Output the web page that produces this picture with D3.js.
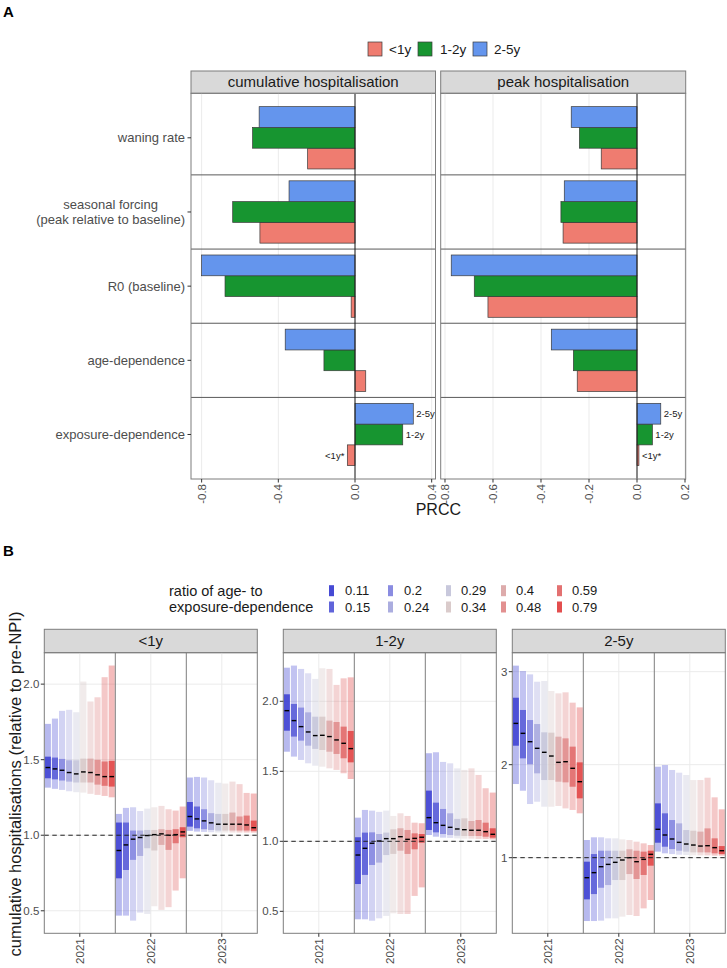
<!DOCTYPE html>
<html><head><meta charset="utf-8">
<script src="https://cdn.jsdelivr.net/npm/d3@7"></script>
<style>body{margin:0;background:#fff}svg{font-family:"Liberation Sans",Arial,Helvetica,sans-serif}</style>
</head><body><svg id="c" width="727" height="968"></svg>
<script>
// ================= PANEL A DATA =================
const outcomes = ["cumulative hospitalisation", "peak hospitalisation"];
const params = ["waning rate", "seasonal forcing\n(peak relative to baseline)", "R0 (baseline)", "age-dependence", "exposure-dependence"];
const ageGroups = ["<1y", "1-2y", "2-5y"];
const cumLt1   = [-0.247, -0.496, -0.020,  0.056, -0.040];
const cum1to2  = [-0.534, -0.638, -0.678, -0.162,  0.249];
const cum2to5  = [-0.500, -0.344, -0.800, -0.364,  0.304];
const peakLt1  = [-0.149, -0.308, -0.621, -0.249,  0.008];
const peak1to2 = [-0.240, -0.317, -0.678, -0.265,  0.064];
const peak2to5 = [-0.274, -0.303, -0.774, -0.357,  0.099];
const cumTicks  = [-0.8, -0.4, 0.0, 0.4];
const peakTicks = [-0.8, -0.6, -0.4, -0.2, 0.0, 0.2];
const labelledParam = "exposure-dependence";
const barLabels = ["<1y*", "1-2y", "2-5y"];

// ================= PANEL B DATA =================
const years = [2021, 2022, 2023];
const ratios = ["0.11","0.15","0.2","0.24","0.29","0.34","0.4","0.48","0.59","0.79"];
const ageFacets = ["<1y", "1-2y", "2-5y"];
// each array: 10 ratios for 2021, then 2022, then 2023
const lt1Hi95 = [1.737,1.772,1.823,1.830,1.814,2.017,1.885,1.913,2.046,2.123,
                 1.141,1.181,1.185,1.160,1.176,1.185,1.194,1.172,1.163,1.190,
                 1.382,1.386,1.382,1.364,1.347,1.342,1.355,1.338,1.280,1.276];
const lt1Hi50 = [1.520,1.514,1.505,1.496,1.496,1.507,1.507,1.499,1.488,1.492,
                 1.084,1.084,1.031,1.031,1.035,1.035,1.040,1.035,1.040,1.053,
                 1.220,1.190,1.172,1.146,1.141,1.141,1.150,1.124,1.130,1.097];
const lt1Med  = [1.448,1.439,1.430,1.415,1.406,1.419,1.415,1.400,1.388,1.388,
                 0.899,0.936,0.974,0.985,0.998,1.004,1.009,1.000,1.004,1.022,
                 1.124,1.108,1.095,1.082,1.073,1.073,1.073,1.073,1.068,1.050];
const lt1Lo50 = [1.377,1.370,1.362,1.355,1.349,1.349,1.349,1.335,1.327,1.322,
                 0.715,0.770,0.837,0.863,0.914,0.899,0.936,0.903,0.947,0.987,
                 1.057,1.046,1.040,1.035,1.031,1.031,1.031,1.031,1.031,1.029];
const lt1Lo95 = [1.315,1.307,1.300,1.291,1.285,1.282,1.274,1.267,1.260,1.251,
                 0.468,0.468,0.435,0.488,0.479,0.530,0.506,0.524,0.634,0.715,
                 1.029,1.024,1.022,1.020,1.018,1.018,1.018,1.018,1.018,1.018];

const y12Hi95 = [2.240,2.255,2.231,2.200,2.160,2.236,2.231,2.117,2.164,2.171,
                 1.169,1.224,1.219,1.210,1.219,1.181,1.200,1.181,1.133,1.129,
                 1.629,1.636,1.567,1.557,1.521,1.510,1.521,1.474,1.379,1.348];
const y12Hi50 = [2.050,1.981,1.955,1.921,1.890,1.890,1.862,1.852,1.819,1.788,
                 1.029,1.062,1.064,1.052,1.062,1.086,1.093,1.081,1.057,1.052,
                 1.362,1.276,1.231,1.200,1.160,1.164,1.145,1.152,1.133,1.093];
const y12Med  = [1.933,1.862,1.819,1.781,1.755,1.757,1.748,1.724,1.700,1.662,
                 0.902,0.950,0.986,1.002,1.019,1.019,1.033,1.014,1.021,1.029,
                 1.169,1.133,1.114,1.100,1.088,1.083,1.079,1.079,1.069,1.050];
const y12Lo50 = [1.790,1.748,1.719,1.683,1.660,1.652,1.640,1.624,1.593,1.564,
                 0.695,0.760,0.831,0.848,0.902,0.910,0.933,0.910,0.943,0.990,
                 1.081,1.064,1.052,1.045,1.040,1.038,1.038,1.038,1.033,1.026];
const y12Lo95 = [1.640,1.605,1.581,1.557,1.540,1.533,1.521,1.510,1.486,1.445,
                 0.443,0.443,0.433,0.450,0.467,0.486,0.481,0.481,0.610,0.671,
                 1.045,1.033,1.026,1.024,1.021,1.019,1.019,1.017,1.017,1.014];

const y25Hi95 = [3.065,3.007,2.971,2.892,2.900,2.792,2.767,2.778,2.667,2.616,
                 1.190,1.219,1.219,1.208,1.208,1.197,1.190,1.172,1.154,1.136,
                 1.978,1.996,1.943,1.914,1.889,1.835,1.835,1.860,1.649,1.520];
const y25Hi50 = [2.720,2.588,2.480,2.437,2.348,2.344,2.301,2.283,2.194,2.025,
                 0.957,1.039,1.075,1.075,1.075,1.075,1.090,1.075,1.065,1.075,
                 1.584,1.477,1.405,1.369,1.297,1.290,1.280,1.315,1.208,1.125];
const y25Med  = [2.444,2.337,2.247,2.176,2.133,2.093,2.025,2.032,1.961,1.817,
                 0.785,0.839,0.903,0.928,0.950,0.975,1.000,0.957,0.982,1.036,
                 1.305,1.244,1.201,1.165,1.147,1.136,1.125,1.129,1.108,1.075];
const y25Lo50 = [2.204,2.068,2.004,1.907,1.835,1.835,1.817,1.810,1.763,1.638,
                 0.552,0.609,0.677,0.706,0.760,0.760,0.824,0.771,0.814,0.914,
                 1.161,1.118,1.093,1.075,1.065,1.057,1.057,1.057,1.047,1.039];
const y25Lo95 = [1.792,1.720,1.577,1.602,1.548,1.548,1.556,1.530,1.513,1.477,
                 0.319,0.319,0.323,0.348,0.348,0.366,0.384,0.373,0.455,0.545,
                 1.065,1.047,1.039,1.032,1.029,1.025,1.025,1.025,1.022,1.022];
const lt1Ticks = [0.5, 1.0, 1.5, 2.0];
const y12Ticks = [0.5, 1.0, 1.5, 2.0];
const y25Ticks = [1, 2, 3];

// ================= STYLES =================
const ageColors = {"<1y":"#EF7C70", "1-2y":"#179530", "2-5y":"#6495ED"};
const ratioColors = ["#3236CF","#4F53D6","#7D80DE","#A2A4DC","#C2C2D8","#D6C5C5","#D9A2A2","#DF8484","#E06262","#E03B3B"];
const gridCol = "#EBEBEB", borderCol = "#7d7d7d", tickTxt = "#4D4D4D";
const fmtHy = f => v => d3.format(f)(v).replace("\u2212","-");

const svg = d3.select("#c");
svg.append("rect").attr("width",727).attr("height",968).attr("fill","#fff");

// ---------- Panel labels ----------
svg.append("text").attr("x",3).attr("y",17).attr("font-size",15).attr("font-weight","bold").text("A");
svg.append("text").attr("x",3).attr("y",556).attr("font-size",15).attr("font-weight","bold").text("B");

// ================= PANEL A =================
const aTop = 93.3, aBot = 479, stripTop = 71;
const valsA = {
  "cumulative hospitalisation": {"<1y":cumLt1, "1-2y":cum1to2, "2-5y":cum2to5},
  "peak hospitalisation": {"<1y":peakLt1, "1-2y":peak1to2, "2-5y":peak2to5}
};
const panelsA = [
  {x0:191, x1:435.5, dom:[-0.8555, 0.4199], ticks:cumTicks},
  {x0:440.7, x1:685.7, dom:[-0.8179, 0.2029], ticks:peakTicks}
];
const yA = d3.scaleBand().domain(params).range([aTop, aBot]).paddingInner(0).paddingOuter(0.1);
const step = yA.step();
const gA = d3.scaleBand().domain(["2-5y","1-2y","<1y"]).range([-0.42*step, 0.42*step]);

// legend A
const legA = [{k:"<1y", x:368, tx:389},{k:"1-2y", x:418, tx:440},{k:"2-5y", x:473, tx:494}];
legA.forEach(d=>{
  svg.append("rect").attr("x",d.x).attr("y",42).attr("width",14).attr("height",14)
    .attr("fill",ageColors[d.k]).attr("stroke","#3a3a3a").attr("stroke-width",0.7);
  svg.append("text").attr("x",d.tx).attr("y",49).attr("dy","0.35em").attr("font-size",13.5).attr("fill","#1a1a1a").text(d.k);
});

outcomes.forEach((o,i)=>{
  const P = panelsA[i];
  const x = d3.scaleLinear().domain(P.dom).range([P.x0, P.x1]);
  const g = svg.append("g");
  g.append("rect").attr("x",P.x0).attr("y",stripTop).attr("width",P.x1-P.x0).attr("height",aTop-stripTop)
    .attr("fill","#D9D9D9").attr("stroke",borderCol).attr("stroke-width",1);
  g.append("text").attr("x",(P.x0+P.x1)/2).attr("y",(stripTop+aTop)/2).attr("dy","0.35em")
    .attr("text-anchor","middle").attr("font-size",15).attr("fill","#1a1a1a").text(o);
  g.selectAll(".gx").data(P.ticks).join("line")
    .attr("x1",d=>x(d)).attr("x2",d=>x(d)).attr("y1",aTop).attr("y2",aBot)
    .attr("stroke",gridCol).attr("stroke-width",1);
  params.slice(1).forEach(p=>{
    const yy = yA(p);
    g.append("line").attr("x1",P.x0).attr("x2",P.x1).attr("y1",yy).attr("y2",yy)
      .attr("stroke","#5a5a5a").attr("stroke-width",1);
  });
  params.forEach((p,pi)=>{
    const cy = yA(p) + yA.bandwidth()/2;
    ageGroups.forEach((ag,ai)=>{
      const v = valsA[o][ag][pi];
      g.append("rect").attr("x",Math.min(x(0),x(v))).attr("width",Math.abs(x(v)-x(0)))
        .attr("y",cy+gA(ag)).attr("height",gA.bandwidth())
        .attr("fill",ageColors[ag]).attr("stroke","#3a3a3a").attr("stroke-width",0.7);
      if (p===labelledParam) {
        g.append("text").attr("x", v>=0 ? x(v)+3 : x(v)-3).attr("y",cy+gA(ag)+gA.bandwidth()/2).attr("dy","0.35em")
          .attr("text-anchor", v>=0 ? "start" : "end").attr("font-size",9.5).attr("fill","#1a1a1a").text(barLabels[ai]);
      }
    });
  });
  g.append("line").attr("x1",x(0)).attr("x2",x(0)).attr("y1",aTop).attr("y2",aBot).attr("stroke","#1a1a1a").attr("stroke-width",1);
  g.append("rect").attr("x",P.x0).attr("y",aTop).attr("width",P.x1-P.x0).attr("height",aBot-aTop)
    .attr("fill","none").attr("stroke",borderCol).attr("stroke-width",1);
  P.ticks.forEach(t=>{
    g.append("line").attr("x1",x(t)).attr("x2",x(t)).attr("y1",aBot).attr("y2",aBot+3.5).attr("stroke","#333");
    g.append("text").attr("transform",`translate(${x(t)},${aBot+5}) rotate(-90)`).attr("dy","0.35em")
      .attr("text-anchor","end").attr("font-size",11.5).attr("fill",tickTxt).text(fmtHy(".1f")(t));
  });
});
params.forEach(p=>{
  const cy = yA(p) + yA.bandwidth()/2;
  svg.append("line").attr("x1",187.5).attr("x2",191).attr("y1",cy).attr("y2",cy).attr("stroke","#333");
  const lines = p.split("\n");
  if (lines.length===1) {
    svg.append("text").attr("x",185).attr("y",cy).attr("dy","0.35em").attr("text-anchor","end")
      .attr("font-size",13).attr("fill",tickTxt).text(p);
  } else {
    const t = svg.append("text").attr("font-size",13).attr("fill",tickTxt).attr("text-anchor","middle");
    const tmp = svg.append("text").attr("font-size",13).text(lines[1]);
    const w = tmp.node().getComputedTextLength(); tmp.remove();
    const cx = 185 - w/2;
    lines.forEach((l,li)=>{
      t.append("tspan").attr("x",cx).attr("y",cy + (li-0.5)*15.5).attr("dy","0.35em").text(l);
    });
  }
});
svg.append("text").attr("x",(191+685.7)/2).attr("y",509).attr("dy","0.35em").attr("text-anchor","middle")
  .attr("font-size",16).attr("fill","#1a1a1a").text("PRCC");

// ================= PANEL B =================
const bStripTop = 629.3, bTop = 652.7, bBot = 933.3, facetW = 213;
const facetsB = [
  {name:"<1y", x0:44.3, dom:[0.351,2.208], ticks:lt1Ticks, fmt:".1f", hi95:lt1Hi95, hi50:lt1Hi50, med:lt1Med, lo50:lt1Lo50, lo95:lt1Lo95},
  {name:"1-2y", x0:283.3, dom:[0.343,2.347], ticks:y12Ticks, fmt:".1f", hi95:y12Hi95, hi50:y12Hi50, med:y12Med, lo50:y12Lo50, lo95:y12Lo95},
  {name:"2-5y", x0:512.3, dom:[0.187,3.204], ticks:y25Ticks, fmt:"d", hi95:y25Hi95, hi50:y25Hi50, med:y25Med, lo50:y25Lo50, lo95:y25Lo95}
];

svg.append("text").attr("x",169).attr("font-size",14.5).attr("fill","#1a1a1a")
  .selectAll("tspan").data(["ratio of age- to","exposure-dependence"]).join("tspan")
  .attr("x",169).attr("y",(d,i)=>[590.7,607][i]).attr("dy","0.35em").text(d=>d);
const legColKey = [329, 388, 446, 501, 557], legColTxt = [345, 404, 461, 516, 572], legRowY = [590.7, 607];
ratios.forEach((r,i)=>{
  const col = Math.floor(i/2), row = i%2;
  svg.append("rect").attr("x",legColKey[col]).attr("y",legRowY[row]-5.5).attr("width",5).attr("height",11)
    .attr("fill",ratioColors[i]).attr("fill-opacity",0.9);
  svg.append("text").attr("x",legColTxt[col]).attr("y",legRowY[row]).attr("dy","0.35em")
    .attr("font-size",13).attr("fill","#1a1a1a").text(r);
});

facetsB.forEach(F=>{
  const x1 = F.x0 + facetW;
  const xY = d3.scaleBand().domain(years).range([F.x0, x1]).padding(0);
  const xR = d3.scaleBand().domain(ratios).range([0, xY.bandwidth()]).paddingInner(0.14).paddingOuter(0.07);
  const y = d3.scaleLinear().domain(F.dom).range([bBot, bTop]);
  const g = svg.append("g");
  g.append("rect").attr("x",F.x0).attr("y",bStripTop).attr("width",facetW).attr("height",bTop-bStripTop)
    .attr("fill","#D9D9D9").attr("stroke",borderCol).attr("stroke-width",1);
  g.append("text").attr("x",F.x0+facetW/2).attr("y",(bStripTop+bTop)/2).attr("dy","0.35em")
    .attr("text-anchor","middle").attr("font-size",15).attr("fill","#1a1a1a").text(F.name);
  F.ticks.forEach(t=>{
    g.append("line").attr("x1",F.x0).attr("x2",x1).attr("y1",y(t)).attr("y2",y(t)).attr("stroke",gridCol).attr("stroke-width",1);
  });
  years.forEach(yr=>{
    const cx = xY(yr)+xY.bandwidth()/2;
    g.append("line").attr("x1",cx).attr("x2",cx).attr("y1",bTop).attr("y2",bBot).attr("stroke",gridCol).attr("stroke-width",1);
  });
  years.forEach((yr,yi)=>{
    ratios.forEach((r,ri)=>{
      const k = yi*10+ri;
      const bx = xY(yr)+xR(r), bw = xR.bandwidth();
      g.append("rect").attr("x",bx).attr("width",bw).attr("y",y(F.hi95[k])).attr("height",y(F.lo95[k])-y(F.hi95[k]))
        .attr("fill",ratioColors[ri]).attr("fill-opacity",0.35);
      g.append("rect").attr("x",bx).attr("width",bw).attr("y",y(F.hi50[k])).attr("height",y(F.lo50[k])-y(F.hi50[k]))
        .attr("fill",ratioColors[ri]).attr("fill-opacity",0.8);
      g.append("line").attr("x1",bx+bw*0.12).attr("x2",bx+bw*0.88).attr("y1",y(F.med[k])).attr("y2",y(F.med[k]))
        .attr("stroke","#000").attr("stroke-width",1.4);
    });
  });
  g.append("line").attr("x1",F.x0).attr("x2",x1).attr("y1",y(1)).attr("y2",y(1))
    .attr("stroke","#222").attr("stroke-width",1).attr("stroke-dasharray","4.5,3.5");
  years.slice(1).forEach(yr=>{
    g.append("line").attr("x1",xY(yr)).attr("x2",xY(yr)).attr("y1",bTop).attr("y2",bBot).attr("stroke",borderCol).attr("stroke-width",1);
  });
  g.append("rect").attr("x",F.x0).attr("y",bTop).attr("width",facetW).attr("height",bBot-bTop)
    .attr("fill","none").attr("stroke",borderCol).attr("stroke-width",1);
  F.ticks.forEach(t=>{
    g.append("line").attr("x1",F.x0-3.5).attr("x2",F.x0).attr("y1",y(t)).attr("y2",y(t)).attr("stroke","#333");
    g.append("text").attr("x",F.x0-5).attr("y",y(t)).attr("dy","0.35em").attr("text-anchor","end")
      .attr("font-size",11.5).attr("fill",tickTxt).text(fmtHy(F.fmt)(t));
  });
  years.forEach(yr=>{
    const cx = xY(yr)+xY.bandwidth()/2;
    g.append("line").attr("x1",cx).attr("x2",cx).attr("y1",bBot).attr("y2",bBot+3.5).attr("stroke","#333");
    g.append("text").attr("transform",`translate(${cx},${bBot+5}) rotate(-90)`).attr("dy","0.35em")
      .attr("text-anchor","end").attr("font-size",11.5).attr("fill",tickTxt).text(yr);
  });
});
svg.append("text").attr("transform","translate(15,784) rotate(-90)").attr("dy","0.35em").attr("text-anchor","middle")
  .attr("font-size",16.5).attr("fill","#1a1a1a").text("cumulative hospitalisations (relative to pre-NPI)");
</script></body></html>
